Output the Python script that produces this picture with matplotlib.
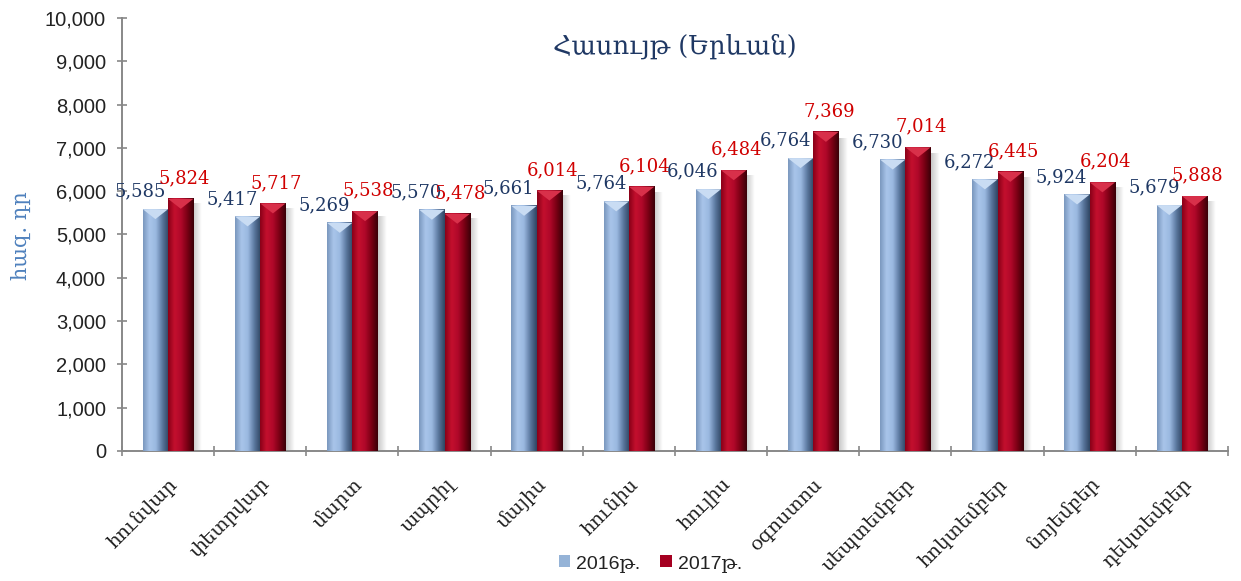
import numpy as np
import matplotlib
matplotlib.use("Agg")
import matplotlib.pyplot as plt
from matplotlib.colors import LinearSegmentedColormap

months = ["հունվար", "փետրվար", "մարտ", "ապրիլ", "մայիս", "հունիս",
          "հուլիս", "օգոստոս", "սեպտեմբեր", "հոկտեմբեր", "նոյեմբեր", "դեկտեմբեր"]
values_2016 = [5585, 5417, 5269, 5570, 5661, 5764, 6046, 6764, 6730, 6272, 5924, 5679]
values_2017 = [5824, 5717, 5538, 5478, 6014, 6104, 6484, 7369, 7014, 6445, 6204, 5888]
series_names = ["2016թ.", "2017թ."]
title = "Հասույթ (Երևան)"
ylabel = "հազ. դր"

serif = ["DejaVu Serif", "DejaVu Sans"]
sans = ["Liberation Sans", "DejaVu Serif", "DejaVu Sans"]

fig = plt.figure(figsize=(12.41, 5.81), dpi=100)
ax = fig.add_axes([0.0983, 0.2238, 0.8912, 0.7452])

x = np.arange(len(months))
w = 0.275
b1 = ax.bar(x - w/2, values_2016, w, color="#95b3d7", edgecolor="none", zorder=2, label=series_names[0])
b2 = ax.bar(x + w/2, values_2017, w, color="#a50021", edgecolor="none", zorder=2, label=series_names[1])

cmap_blue = LinearSegmentedColormap.from_list("b", ["#7a97be", "#a9c5ea", "#9ab8e0", "#5b789f", "#2f4562"])
cmap_red = LinearSegmentedColormap.from_list("r", ["#8a0018", "#c4102e", "#b0082a", "#7a0014", "#3a0008"])
grad = np.linspace(0, 1, 64).reshape(1, -1)
shadow = np.linspace(0.22, 0.0, 32).reshape(1, -1)
for bars, cm in ((b1, cmap_blue), (b2, cmap_red)):
    for p in bars:
        x0, wd, h = p.get_x(), p.get_width(), p.get_height()
        # soft shadow to the right
        ax.imshow(np.zeros((1, 32)), extent=(x0 + wd, x0 + wd * 1.35, 0, h * 0.98), aspect="auto",
                  cmap="gray", alpha=shadow, zorder=1, vmin=0, vmax=1)
        ax.imshow(grad, extent=(x0, x0 + wd, 0, h), aspect="auto", cmap=cm, zorder=3, interpolation="bicubic")
        # pyramid top
        th = 230
        top_col = "#c9dcf3" if cm is cmap_blue else "#d8304a"
        ax.fill([x0, x0 + wd, x0 + wd/2], [h, h, h - th], color=top_col, zorder=4, lw=0)

ax.set_xlim(-0.5, len(months) - 0.5)
ax.set_ylim(0, 10000)
ax.set_yticks(np.arange(0, 10001, 1000))
ax.set_yticklabels([f"{v:,}" for v in range(0, 10001, 1000)], fontsize=14.5, family=sans, color="#222222")
ax.set_xticks(x)
ax.set_xticklabels(months, rotation=45, ha="right", rotation_mode="anchor", fontsize=14, family=serif, color="#222222")
ax.tick_params(axis="x", length=0, pad=17)
ax.set_xticks(np.arange(-0.5, len(months), 1), minor=True)
ax.tick_params(axis="x", which="minor", length=7, direction="inout", color="#888888", width=1.2)
ax.tick_params(axis="y", length=7, direction="inout", color="#888888", width=1.2, pad=8)

for s in ["top", "right"]:
    ax.spines[s].set_visible(False)
for s in ["left", "bottom"]:
    ax.spines[s].set_color("#888888")
    ax.spines[s].set_linewidth(1.4)

for i in range(len(months)):
    ax.text(x[i] - w - 0.03, values_2016[i] + 290, f"{values_2016[i]:,}", ha="center", va="baseline",
            fontsize=13, family=serif, color="#1f3864", zorder=5)
    ax.text(x[i] + w * 0.62, values_2017[i] + 360, f"{values_2017[i]:,}", ha="center", va="baseline",
            fontsize=13, family=serif, color="#d00000", zorder=6)

ax.text(0.5, 0.935, title, transform=ax.transAxes, ha="center", va="center",
        fontsize=18.5, family=serif, color="#1f3864")
fig.text(0.017, 0.595, ylabel, rotation=90, ha="center", va="center", fontsize=15, family=serif, color="#4f81bd")

leg = fig.legend(handles=[b1, b2], labels=series_names, loc="center", bbox_to_anchor=(0.524, 0.03),
                 ncol=2, frameon=False, prop={"family": sans, "size": 14}, handlelength=0.6,
                 handleheight=0.6, columnspacing=1.0, handletextpad=0.3)
for t in leg.get_texts():
    t.set_color("#222222")

fig.savefig("out.png", dpi=100)
